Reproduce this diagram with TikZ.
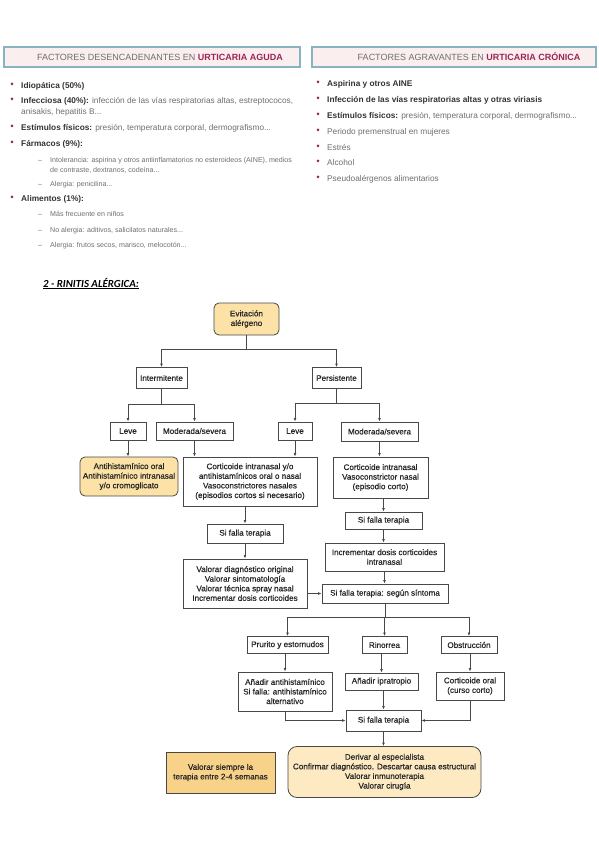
\documentclass[tikz,border=0pt]{standalone}
\usepackage{fontspec}
\setmainfont{Liberation Sans}
\newfontfamily\calib{Carlito}
\newfontfamily\flowfont{Liberation Sans}[FakeBold=0.6]
\usetikzlibrary{arrows.meta,calc}
\definecolor{maroon}{HTML}{9B2556}
\definecolor{txtgray}{HTML}{6E6E6E}
\definecolor{boldgray}{HTML}{333333}
\definecolor{barfill}{HTML}{FBEEEE}
\definecolor{barline}{HTML}{86B4C0}
\definecolor{yel}{HTML}{FCE2A6}
\definecolor{yeldark}{HTML}{F9D28A}
\definecolor{yellight}{HTML}{FDEAC3}
\definecolor{boxline}{HTML}{484848}
\tikzset{
  bar/.style={draw=barline, line width=1.5pt, fill=barfill, minimum height=20, inner sep=0,
    font=\fontsize{9}{10}\selectfont, text=txtgray},
  li/.style={anchor=base west, inner sep=0, font=\fontsize{8.3}{10}\selectfont, text=txtgray},
  subli/.style={anchor=base west, inner sep=0, font=\fontsize{7.1}{9}\selectfont, text=txtgray, align=left},
  fb/.style={draw=boxline, line width=0.8pt, fill=white, align=center, inner sep=1,
    font=\flowfont\fontsize{8.1}{9.6}\selectfont, text=black!85},
  rb/.style={fb, rounded corners=5pt, fill=yel},
  arr/.style={draw=boxline, line width=0.8pt, -{Latex[length=3.5pt,width=2.8pt]}},
}
\newcommand{\bx}[1]{\textbf{\color{boldgray}#1}}
\begin{document}
\begin{tikzpicture}[x=1pt,y=-1pt]
\useasboundingbox (0,0) rectangle (599,848);
% header bars
\node[bar, minimum width=296] (bar1) at (152,57) {\hspace*{16pt}FACTORES DESENCADENANTES EN \textcolor{maroon}{\textbf{URTICARIA AGUDA}}};
\node[bar, minimum width=284] (bar2) at (454,57) {\hspace*{30pt}FACTORES AGRAVANTES EN \textcolor{maroon}{\textbf{URTICARIA CRÓNICA}}};
% left list
\foreach \y in {86,101,128,144,199} \fill[maroon] (12,\y-2.2) circle (1.5);
\node[li] (l1) at (21,88.5) {\bx{Idiopática (50\%)}};
\node[li] (l2) at (21,103.5) {\bx{Infecciosa (40\%):} infección de las vías respiratorias altas, estreptococos,};
\node[li] (l2b) at (21,114.5) {anisakis, hepatitis B...};
\node[li] (l3) at (21,130.5) {\bx{Estímulos físicos:} presión, temperatura corporal, dermografismo...};
\node[li] (l4) at (21,146.5) {\bx{Fármacos (9\%):}};
\node[subli] (l5) at (38,162) {–};
\node[subli] (l5t) at (50,162) {Intolerancia: aspirina y otros antiinflamatorios no esteroideos (AINE), medios};
\node[subli] (l5b) at (50,172) {de contraste, dextranos, codeína...};
\node[subli] (l6) at (38,186) {–};
\node[subli] (l6t) at (50,186) {Alergia: penicilina...};
\node[li] (l7) at (21,201.5) {\bx{Alimentos (1\%):}};
\node[subli] (l8) at (38,216.5) {–};
\node[subli] (l8t) at (50,216.5) {Más frecuente en niños};
\node[subli] (l9) at (38,232) {–};
\node[subli] (l9t) at (50,232) {No alergia: aditivos, salicilatos naturales...};
\node[subli] (l10) at (38,247.5) {–};
\node[subli] (l10t) at (50,247.5) {Alergia: frutos secos, marisco, melocotón...};
% right list
\foreach \y in {84,100,116,132,148,163,179} \fill[maroon] (318,\y-2.2) circle (1.5);
\node[li] (r1) at (327,86.5) {\bx{Aspirina y otros AINE}};
\node[li] (r2) at (327,102.5) {\bx{Infección de las vías respiratorias altas y otras viriasis}};
\node[li] (r3) at (327,118.5) {\bx{Estímulos físicos:} presión, temperatura corporal, dermografismo...};
\node[li] (r4) at (327,134.5) {Periodo premenstrual en mujeres};
\node[li] (r5) at (327,150.5) {Estrés};
\node[li] (r6) at (327,165.5) {Alcohol};
\node[li] (r7) at (327,181.5) {Pseudoalérgenos alimentarios};
% section title
\node[anchor=base west, inner sep=0] (rt) at (43,287) {\calib\bfseries\itshape\fontsize{10.8}{12}\selectfont\underline{2 - RINITIS ALÉRGICA:}};
% flowchart
\node[rb, minimum width=65, minimum height=32] (evit) at (246.5,319) {Evitación\\alérgeno};
\node[fb, minimum width=51, minimum height=21] (inter) at (161.5,378) {Intermitente};
\node[fb, minimum width=49, minimum height=21] (pers) at (336.5,378) {Persistente};
\node[fb, minimum width=36, minimum height=18] (leveL) at (128,431) {Leve};
\node[fb, minimum width=77, minimum height=18] (modL) at (194.5,431) {Moderada/severa};
\node[fb, minimum width=34, minimum height=18] (leveR) at (295,431) {Leve};
\node[fb, minimum width=77, minimum height=19] (modR) at (379.5,431.5) {Moderada/severa};
\node[rb, minimum width=98, minimum height=39] (antih) at (129,476.5) {Antihistamínico oral\\Antihistamínico intranasal\\y/o cromoglicato};
\node[fb, minimum width=134, minimum height=49] (cortL) at (250,481.5) {Corticoide intranasal y/o\\antihistamínicos oral o nasal\\Vasoconstrictores nasales\\(episodios cortos si necesario)};
\node[fb, minimum width=95, minimum height=41] (cortR) at (380.5,477.5) {Corticoide intranasal\\Vasoconstrictor nasal\\(episodio corto)};
\node[fb, minimum width=76, minimum height=19] (sifL) at (245,533.5) {Si falla terapia};
\node[fb, minimum width=77, minimum height=17] (sifR) at (383.5,520.5) {Si falla terapia};
\node[fb, minimum width=124, minimum height=49] (valor) at (245,583.5) {Valorar diagnóstico original\\Valorar sintomatología\\Valorar técnica spray nasal\\Incrementar dosis corticoides};
\node[fb, minimum width=119, minimum height=28] (incr) at (384.5,557) {Incrementar dosis corticoides\\intranasal};
\node[fb, minimum width=126, minimum height=19] (segun) at (385,593.5) {Si falla terapia: según síntoma};
\node[fb, minimum width=81, minimum height=17] (prur) at (287.5,645) {Prurito y estornudos};
\node[fb, minimum width=45, minimum height=17] (rino) at (384.5,645) {Rinorrea};
\node[fb, minimum width=56, minimum height=17] (obst) at (469,645) {Obstrucción};
\node[fb, minimum width=94, minimum height=39] (anad) at (285,691.5) {Añadir antihistamínico\\Si falla: antihistamínico\\alternativo};
\node[fb, minimum width=73, minimum height=17] (ipra) at (381.5,681.5) {Añadir ipratropio};
\node[fb, minimum width=68, minimum height=28] (coral) at (470,686) {Corticoide oral\\(curso corto)};
\node[fb, minimum width=75, minimum height=21] (sifB) at (383.5,720.5) {Si falla terapia};
\node[rb, fill=yellight, rounded corners=9pt, minimum width=193, minimum height=51] (deriv) at (384.5,772) {Derivar al especialista\\Confirmar diagnóstico. Descartar causa estructural\\Valorar inmunoterapia\\Valorar cirugía};
\node[fb, fill=yeldark, minimum width=109, minimum height=41] (vsiem) at (220.5,772.5) {Valorar siempre la\\terapia entre 2-4 semanas};
% connectors
\draw[arr] (evit.south) -- ++(0,14) -| (inter.north);
\draw[arr] (evit.south) -- ++(0,14) -| (pers.north);
\draw[arr] (inter.south) -- ++(0,15) -| (leveL.north);
\draw[arr] (inter.south) -- ++(0,15) -| (modL.north);
\draw[arr] (pers.south) -- ++(0,14) -| (leveR.north);
\draw[arr] (pers.south) -- ++(0,14) -| (modR.north);
\draw[arr] (leveL.south) -- (leveL.south |- antih.north);
\draw[arr] (modL.south) -- (modL.south |- cortL.north);
\draw[arr] (leveR.south) -- (leveR.south |- cortL.north);
\draw[arr] (modR.south) -- (modR.south |- cortR.north);
\draw[arr] (cortR.south -| sifR.north) -- (sifR.north);
\draw[arr] (sifR.south) -- (sifR.south |- incr.north);
\draw[arr] (incr.south) -- (incr.south |- segun.north);
\draw[arr] (cortL.south -| sifL.north) -- (sifL.north);
\draw[arr] (sifL.south) -- (valor.north);
\draw[arr] (valor.east |- segun.west) -- (segun.west);
\draw[arr] (segun.south) -- ++(0,14) -| (prur.north);
\draw[arr] (segun.south) -- ++(0,14) -| (rino.north);
\draw[arr] (segun.south) -- ++(0,14) -| (obst.north);
\draw[arr] (prur.south -| anad.north) -- (anad.north);
\draw[arr] (rino.south -| ipra.north) -- (ipra.north);
\draw[arr] (obst.south -| coral.north) -- (coral.north);
\draw[arr] (anad.south) |- (sifB.west);
\draw[arr] (coral.south) |- (sifB.east);
\draw[arr] (ipra.south -| sifB.north) -- (sifB.north);
\draw[arr] (sifB.south) -- (sifB.south |- deriv.north);
\end{tikzpicture}
\end{document}
